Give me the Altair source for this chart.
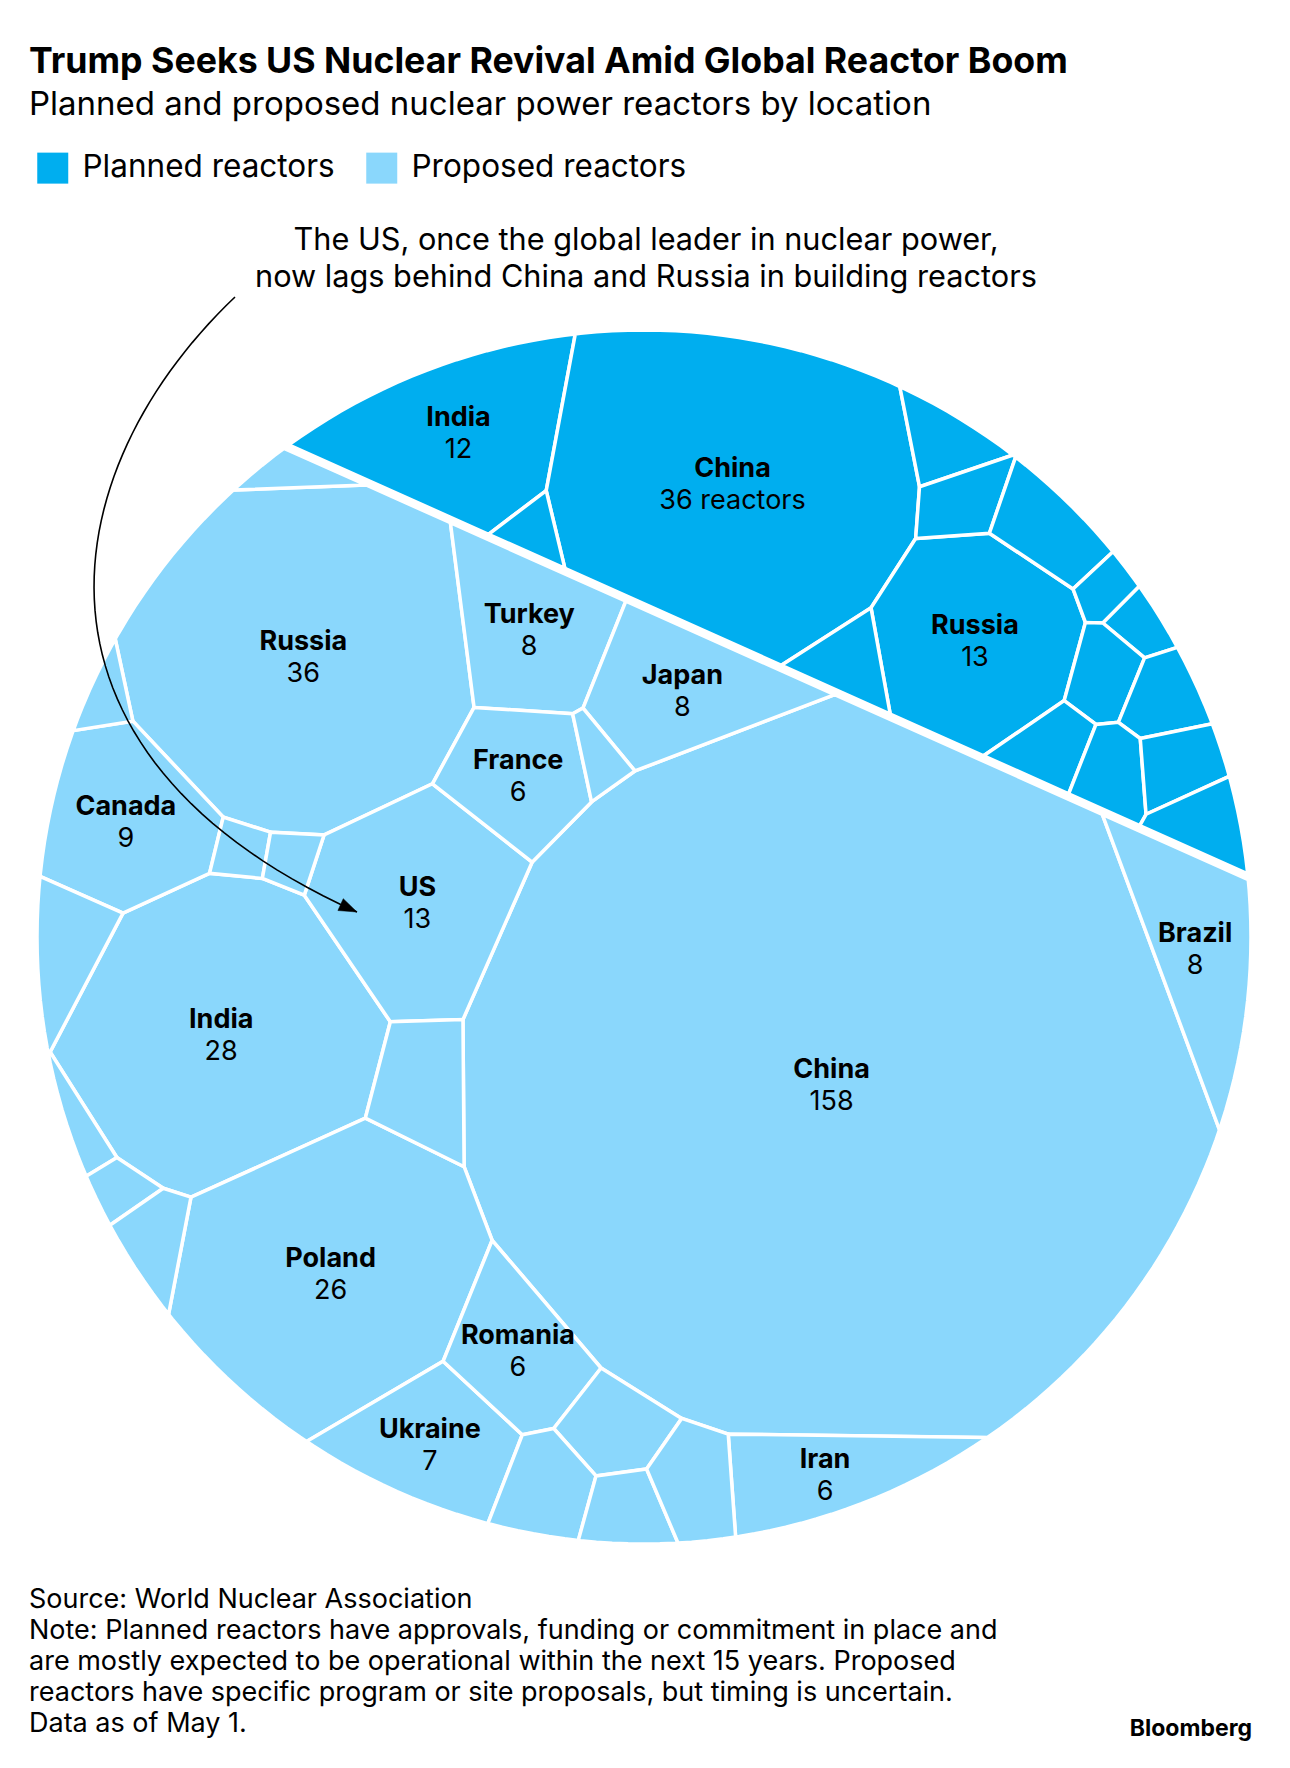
import math
import numpy as np
import pandas as pd
import altair as alt

# ---------------- data ----------------
planned_names = ["India", "China", "Russia", "", "", "", "", "", "", "", "", "", "", "", "", ""]
planned_values = [12, 36, 13, 1, 2, 2, 3, 1, 1, 2, 2, 2, 2, 2, 2, 2]

proposed_names = ["China", "Russia", "India", "Poland", "US", "Canada", "Turkey", "Japan",
                  "Brazil", "Ukraine", "France", "Romania", "Iran",
                  "", "", "", "", "", "", "", "", "", "", "", "", "", ""]
proposed_values = [158, 36, 28, 26, 13, 9, 8, 8, 8, 7, 6, 6, 6,
                   1, 1, 1, 1, 3, 1, 1, 2, 4, 1, 3, 3, 2, 3]

group_labels = ["Planned reactors", "Proposed reactors"]
group_colors = ["#00AEEF", "#8AD7FC"]
long_label_cells = [("Planned reactors", "China")]   # "36 reactors"

title_text = "Trump Seeks US Nuclear Revival Amid Global Reactor Boom"
subtitle_text = "Planned and proposed nuclear power reactors by location"
annotation_lines = ["The US, once the global leader in nuclear power,",
                    "now lags behind China and Russia in building reactors"]
footer_lines = ["Source: World Nuclear Association",
                "Note: Planned reactors have approvals, funding or commitment in place and",
                "are mostly expected to be operational within the next 15 years. Proposed",
                "reactors have specific program or site proposals, but timing is uncertain.",
                "Data as of May 1."]
credit_text = "Bloomberg"

# ---------------- layout hints (page pixels) ----------------
CX, CY, R = 644.0, 937.0, 607.0
CHORD_DEG = 24.1
HALF_GAP = 2.5
N_CIRCLE = 240
LLOYD_ROUNDS = 5

planned_seeds = [(468, 437), (742, 483), (980, 646), (543, 532), (950, 445), (975, 503),
                 (1058, 545), (1112, 598), (1150, 642), (1105, 678), (1165, 708),
                 (1052, 740), (1115, 762), (1178, 782), (1211, 821), (855, 662)]
proposed_seeds = [(828, 1069), (290, 669), (218, 1033), (325, 1280), (419, 908), (100, 848),
                  (523, 625), (671, 684), (1198, 931), (434, 1448), (518, 766), (515, 1370),
                  (799, 1477), (320, 479), (98, 712), (232, 856), (283, 865), (72, 960),
                  (75, 1110), (108, 1182), (150, 1238), (420, 1080), (601, 751), (607, 1430),
                  (545, 1487), (630, 1510), (688, 1475)]

ARROW_P = [(235, 297), (52, 471), (4, 753), (357, 912)]


# ---------------- power-diagram (Voronoi treemap) layout ----------------
def clip(poly, a0, a1, b, lab):
    s = [a0 * x + a1 * y - b for (x, y, _) in poly]
    if max(s) <= 0:
        return poly
    if min(s) >= 0:
        return []
    out = []
    n = len(poly)
    for k in range(n):
        x0, y0, l0 = poly[k]
        k1 = k + 1 if k + 1 < n else 0
        x1, y1, _ = poly[k1]
        s0, s1 = s[k], s[k1]
        if s0 <= 0:
            out.append(poly[k])
            if s1 > 0:
                t = s0 / (s0 - s1)
                out.append((x0 + t * (x1 - x0), y0 + t * (y1 - y0), lab))
        elif s1 <= 0:
            t = s0 / (s0 - s1)
            out.append((x0 + t * (x1 - x0), y0 + t * (y1 - y0), l0))
    return out


def area_centroid(poly):
    n = len(poly)
    if n < 3:
        return 0.0, None
    A = cx = cy = 0.0
    for k in range(n):
        x0, y0, _ = poly[k]
        x1, y1, _ = poly[(k + 1) % n]
        c = x0 * y1 - x1 * y0
        A += c
        cx += (x0 + x1) * c
        cy += (y0 + y1) * c
    A *= 0.5
    if A <= 1e-9:
        return 0.0, None
    return A, (cx / (6 * A), cy / (6 * A))


def power_cells(region, S, W):
    n = len(S)
    sq = [x * x + y * y for x, y in S]
    cells = []
    for i in range(n):
        xi, yi = S[i]
        order = sorted(range(n), key=lambda j: (S[j][0] - xi) ** 2 + (S[j][1] - yi) ** 2)
        poly = region
        for j in order:
            if j == i:
                continue
            a0 = 2 * (S[j][0] - xi)
            a1 = 2 * (S[j][1] - yi)
            b = sq[j] - sq[i] + W[i] - W[j]
            poly = clip(poly, a0, a1, b, j)
            if not poly:
                break
        cells.append(poly)
    return cells


def areas_of(cells):
    return np.array([area_centroid(c)[0] for c in cells])


def hessian(cells, S):
    n = len(S)
    H = np.zeros((n, n))
    for i, poly in enumerate(cells):
        m = len(poly)
        for k in range(m):
            j = poly[k][2]
            if j < 0:
                continue
            x0, y0, _ = poly[k]
            x1, y1, _ = poly[(k + 1) % m]
            L = math.hypot(x1 - x0, y1 - y0)
            d = math.hypot(S[j][0] - S[i][0], S[j][1] - S[i][1])
            c = L / (2 * d)
            H[i, j] -= c
            H[i, i] += c
    return 0.5 * (H + H.T)


def solve_weights(region, S, T, W, tol=5e-4, maxit=80):
    cells = power_cells(region, S, W)
    A = areas_of(cells)
    if A.min() <= 0:
        W = np.zeros(len(S))
        cells = power_cells(region, S, W)
        A = areas_of(cells)
    for _ in range(maxit):
        if np.max(np.abs(A - T) / T) < tol:
            break
        H = hessian(cells, S)
        rhs = T - A
        H[0, :] = 0.0
        H[0, 0] = 1.0
        rhs[0] = 0.0
        try:
            delta = np.linalg.solve(H, rhs)
        except np.linalg.LinAlgError:
            delta = np.linalg.lstsq(H, rhs, rcond=None)[0]
        thr = 0.5 * min(A.min(), T.min())
        alpha = 1.0
        while True:
            Wn = W + alpha * delta
            cn = power_cells(region, S, Wn)
            An = areas_of(cn)
            if An.min() >= thr or alpha < 1e-3:
                break
            alpha *= 0.5
        W, cells, A = Wn, cn, An
    return W, cells, A


def treemap(region, seeds, values, rounds):
    S = [(x - CX, y - CY) for x, y in seeds]
    reg_area = area_centroid(region)[0]
    v = np.array(values, dtype=float)
    T = v / v.sum() * reg_area
    W = np.zeros(len(S))
    for _ in range(rounds):
        W, cells, A = solve_weights(region, S, T, W)
        S = [area_centroid(c)[1] for c in cells]
    W, cells, A = solve_weights(region, S, T, W)
    return cells


# top level: straight chord, planned share of the disc from the data
tot_pl, tot_pr = sum(planned_values), sum(proposed_values)
frac = tot_pl / (tot_pl + tot_pr)
lo, hi = 0.0, 1.0
for _ in range(60):
    u = 0.5 * (lo + hi)
    g = math.acos(u) - u * math.sqrt(1 - u * u) - frac * math.pi
    if g > 0:
        lo = u
    else:
        hi = u
h = 0.5 * (lo + hi) * R
th = math.radians(CHORD_DEG)
nx, ny = math.sin(th), -math.cos(th)

circle = [(R * math.cos(2 * math.pi * k / N_CIRCLE), R * math.sin(2 * math.pi * k / N_CIRCLE), -1)
          for k in range(N_CIRCLE)]
region_planned = clip(circle, -nx, -ny, -(h + HALF_GAP), -1)
region_proposed = clip(circle, nx, ny, h - HALF_GAP, -1)

cells_planned = treemap(region_planned, planned_seeds, planned_values, LLOYD_ROUNDS)
cells_proposed = treemap(region_proposed, proposed_seeds, proposed_values, LLOYD_ROUNDS)

features = []
label_rows = []
for grp, names, vals, cells in [(group_labels[0], planned_names, planned_values, cells_planned),
                                (group_labels[1], proposed_names, proposed_values, cells_proposed)]:
    for name, v, poly in zip(names, vals, cells):
        if len(poly) < 3:
            continue
        ring = [[round(x + CX, 2), round(y + CY, 2)] for x, y, _ in poly]
        ring.append(ring[0])
        features.append({"type": "Feature",
                         "geometry": {"type": "Polygon", "coordinates": [ring]},
                         "properties": {"group": grp, "name": name, "value": v}})
        if name:
            _, (ccx, ccy) = area_centroid(poly)
            num = f"{v} reactors" if (grp, name) in long_label_cells else str(v)
            label_rows.append({"lon": ccx + CX, "lat": ccy + CY, "name": name, "num": num})
labels_df = pd.DataFrame(label_rows)

# annotation arrow (cubic Bezier) + head
P0, P1, P2, P3 = ARROW_P
curve = []
for k in range(61):
    t = k / 60
    a, b_, c, d = (1 - t) ** 3, 3 * t * (1 - t) ** 2, 3 * t * t * (1 - t), t ** 3
    curve.append([a * P0[0] + b_ * P1[0] + c * P2[0] + d * P3[0],
                  a * P0[1] + b_ * P1[1] + c * P2[1] + d * P3[1]])
tx, ty = P3[0] - P2[0], P3[1] - P2[1]
tl = math.hypot(tx, ty)
tx, ty = tx / tl, ty / tl
HL, HW = 18, 6.5
base = (P3[0] - HL * tx, P3[1] - HL * ty)
head = [[P3[0], P3[1]], [base[0] - HW * ty, base[1] + HW * tx],
        [base[0] + HW * ty, base[1] - HW * tx], [P3[0], P3[1]]]
curve_feat = [{"type": "Feature", "geometry": {"type": "LineString", "coordinates": curve},
               "properties": {}}]
head_feat = [{"type": "Feature", "geometry": {"type": "Polygon", "coordinates": [head]},
              "properties": {}}]

# ---------------- chart ----------------
FONT = "Inter"
proj = dict(type="identity", scale=1, translate=[-8, -8])

cells_layer = alt.Chart(alt.Data(values=features)).mark_geoshape(
    stroke="white", strokeWidth=3.5
).encode(
    color=alt.Color("properties.group:N",
                    scale=alt.Scale(domain=group_labels, range=group_colors),
                    legend=alt.Legend(orient="none", legendX=29, legendY=144, direction="horizontal",
                                      title=None, symbolType="square", symbolSize=961,
                                      symbolStrokeWidth=0, symbolOpacity=1, labelFont=FONT,
                                      labelFontSize=31.5, labelColor="black", labelOffset=14,
                                      columnPadding=31, padding=0, labelLimit=500))
).project(**proj)

name_layer = alt.Chart(labels_df).mark_text(
    font=FONT, fontSize=27, fontWeight="bold", color="black", dy=-6, baseline="alphabetic"
).encode(longitude="lon:Q", latitude="lat:Q", text="name:N").project(**proj)

num_layer = alt.Chart(labels_df).mark_text(
    font=FONT, fontSize=27, color="black", dy=26, baseline="alphabetic"
).encode(longitude="lon:Q", latitude="lat:Q", text="num:N").project(**proj)

arrow_line = alt.Chart(alt.Data(values=curve_feat)).mark_geoshape(
    filled=False, stroke="black", strokeWidth=1.6
).project(**proj)
arrow_head = alt.Chart(alt.Data(values=head_feat)).mark_geoshape(
    fill="black", stroke="black", strokeWidth=0.5
).project(**proj)


def text_layer(txt, x, y, **kw):
    return alt.Chart(pd.DataFrame({"t": [txt]})).mark_text(
        font=FONT, color="black", baseline="alphabetic", **kw
    ).encode(text="t:N", x=alt.value(x), y=alt.value(y))


title_layer = text_layer(title_text, 21, 65, fontSize=35.7, fontWeight="bold", align="left")
subtitle_layer = text_layer(subtitle_text, 21, 107, fontSize=33, align="left")
annot_layer = text_layer("\n".join(annotation_lines), 638, 242, fontSize=30.7, align="center",
                         lineBreak="\n", lineHeight=37)
footer_layer = text_layer("\n".join(footer_lines), 21, 1600, fontSize=27, align="left",
                          lineBreak="\n", lineHeight=31)
credit_layer = text_layer(credit_text, 1244, 1728, fontSize=23, fontWeight="bold", align="right")

chart = alt.layer(
    cells_layer, arrow_line, arrow_head, name_layer, num_layer,
    title_layer, subtitle_layer, annot_layer, footer_layer, credit_layer
).properties(
    width=1274, height=1752, padding=0,
    autosize=alt.AutoSizeParams(type="none")
).configure_view(stroke=None)

chart.save("out.html", embed_options={"renderer": "svg", "actions": False})
